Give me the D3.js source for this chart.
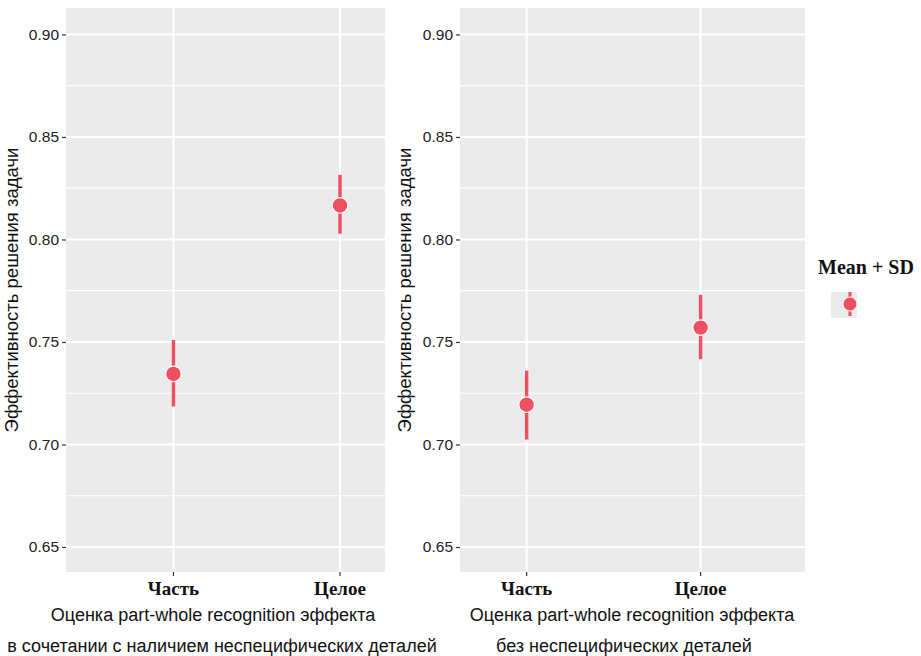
<!DOCTYPE html>
<html>
<head>
<meta charset="utf-8">
<script src="https://cdn.jsdelivr.net/npm/d3@7"></script>
<style>
  body { margin: 0; background: #fff; }
  text { font-family: "Liberation Sans", Arial, sans-serif; }
</style>
</head>
<body>
<div id="chart"></div>
<script>
// data
var categories = ["Часть", "Целое"];
var yTicks = [0.65, 0.70, 0.75, 0.80, 0.85, 0.90];
var yMinor = [0.675, 0.725, 0.775, 0.825, 0.875];

// left panel: with non-specific details
var leftMean = [0.7344, 0.8166];
var leftLow = [0.7185, 0.8028];
var leftHigh = [0.7510, 0.8315];

// right panel: without non-specific details
var rightMean = [0.7194, 0.7570];
var rightLow = [0.7024, 0.7416];
var rightHigh = [0.7360, 0.7730];

var yLabel = "Эффективность решения задачи";
var xTitle = "Оценка part-whole recognition эффекта";
var leftSub = "в сочетании с наличием неспецифических деталей";
var rightSub = "без неспецифических деталей";
var legendTitle = "Mean + SD";

var W = 921, H = 656;
var red = "#ef5060";

var svg = d3.select("#chart").append("svg")
    .attr("width", W)
    .attr("height", H);

var panels = [
  {x0: 66, x1: 385, xdom: [0.355, 2.27], mean: leftMean, lo: leftLow, hi: leftHigh,
   ylabX: 18, sub: leftSub, titleX: 213, subX: 222},
  {x0: 460, x1: 805, xdom: [0.617, 2.6], mean: rightMean, lo: rightLow, hi: rightHigh,
   ylabX: 411, sub: rightSub, titleX: 632, subX: 624}
];

var panelTop = 8, panelBottom = 572;

panels.forEach(function(p) {
  var y = d3.scaleLinear().domain([0.6378, 0.9129]).range([panelBottom, panelTop]);
  var x = d3.scaleLinear().domain(p.xdom).range([p.x0, p.x1]);

  var g = svg.append("g");

  g.append("rect")
    .attr("x", p.x0).attr("y", panelTop)
    .attr("width", p.x1 - p.x0).attr("height", panelBottom - panelTop)
    .attr("fill", "#ebebeb");

  // minor grid
  g.selectAll(".minor").data(yMinor).enter().append("line")
    .attr("x1", p.x0).attr("x2", p.x1)
    .attr("y1", function(d) { return y(d); })
    .attr("y2", function(d) { return y(d); })
    .attr("stroke", "#fff").attr("stroke-width", 1.2);

  // major grid
  g.selectAll(".major").data(yTicks).enter().append("line")
    .attr("x1", p.x0).attr("x2", p.x1)
    .attr("y1", function(d) { return y(d); })
    .attr("y2", function(d) { return y(d); })
    .attr("stroke", "#fff").attr("stroke-width", 2);

  g.selectAll(".vgrid").data(categories).enter().append("line")
    .attr("x1", function(d, i) { return x(i + 1); })
    .attr("x2", function(d, i) { return x(i + 1); })
    .attr("y1", panelTop).attr("y2", panelBottom)
    .attr("stroke", "#fff").attr("stroke-width", 2);

  // y axis
  var yAxis = d3.axisLeft(y).tickValues(yTicks).tickSize(4).tickPadding(3)
    .tickFormat(d3.format(".2f"));
  var ya = g.append("g").attr("transform", "translate(" + p.x0 + ",0)").call(yAxis);
  ya.select(".domain").remove();
  ya.selectAll(".tick line").attr("stroke", "#333").attr("stroke-width", 1.2);
  ya.selectAll(".tick text").attr("fill", "#222")
    .style("font-size", "15.5px")
    .style("font-family", "'Liberation Sans Narrow', 'Liberation Sans', Arial, sans-serif");

  // x axis
  var xa = g.append("g").attr("transform", "translate(0," + panelBottom + ")");
  xa.selectAll("line").data(categories).enter().append("line")
    .attr("x1", function(d, i) { return x(i + 1); })
    .attr("x2", function(d, i) { return x(i + 1); })
    .attr("y1", 0).attr("y2", 4)
    .attr("stroke", "#333").attr("stroke-width", 1.2);
  xa.selectAll("text").data(categories).enter().append("text")
    .attr("x", function(d, i) { return x(i + 1); })
    .attr("y", 23)
    .attr("text-anchor", "middle")
    .style("font-family", "'Liberation Serif', 'Times New Roman', serif")
    .style("font-weight", "bold")
    .style("font-size", "19px")
    .attr("fill", "#111")
    .text(function(d) { return d; });

  // axis titles
  g.append("text")
    .attr("transform", "translate(" + p.ylabX + "," + 290 + ") rotate(-90)")
    .attr("text-anchor", "middle")
    .style("font-size", "18.5px")
    .attr("fill", "#111")
    .text(yLabel);

  g.append("text")
    .attr("x", p.titleX).attr("y", 621)
    .attr("text-anchor", "middle")
    .style("font-size", "18px")
    .attr("fill", "#111")
    .text(xTitle);

  g.append("text")
    .attr("x", p.subX).attr("y", 652)
    .attr("text-anchor", "middle")
    .style("font-size", "18px")
    .attr("fill", "#111")
    .text(p.sub);

  // error bars
  g.selectAll(".err").data(categories).enter().append("line")
    .attr("x1", function(d, i) { return x(i + 1); })
    .attr("x2", function(d, i) { return x(i + 1); })
    .attr("y1", function(d, i) { return y(p.lo[i]); })
    .attr("y2", function(d, i) { return y(p.hi[i]); })
    .attr("stroke", red).attr("stroke-width", 3.4);

  g.selectAll(".pt").data(categories).enter().append("circle")
    .attr("cx", function(d, i) { return x(i + 1); })
    .attr("cy", function(d, i) { return y(p.mean[i]); })
    .attr("r", 7.8)
    .attr("fill", red)
    .attr("stroke", "#fff").attr("stroke-width", 1.2);
});

// legend
var lg = svg.append("g");
lg.append("text")
  .attr("x", 818).attr("y", 274)
  .style("font-family", "'Liberation Serif', 'Times New Roman', serif")
  .style("font-weight", "bold")
  .style("font-size", "20px")
  .attr("fill", "#111")
  .text(legendTitle);
lg.append("rect")
  .attr("x", 831).attr("y", 292)
  .attr("width", 26).attr("height", 26)
  .attr("fill", "#ebebeb");
lg.append("line")
  .attr("x1", 850).attr("x2", 850)
  .attr("y1", 292).attr("y2", 316)
  .attr("stroke", red).attr("stroke-width", 3);
lg.append("circle")
  .attr("cx", 850).attr("cy", 304).attr("r", 7)
  .attr("fill", red)
  .attr("stroke", "#fff").attr("stroke-width", 1);
</script>
</body>
</html>
